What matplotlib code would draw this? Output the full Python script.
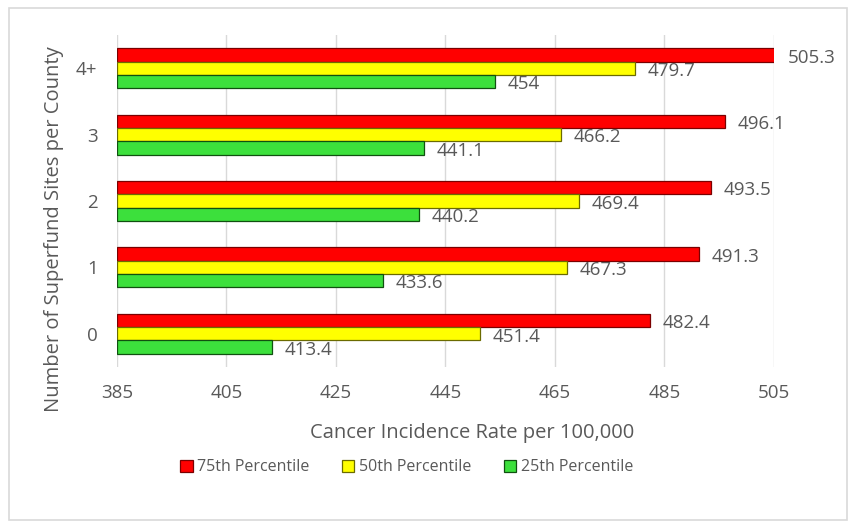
import matplotlib.pyplot as plt
from matplotlib.patches import Rectangle
import numpy as np

plt.rcParams['font.family'] = ['Open Sans', 'DejaVu Sans']

sites = ["0", "1", "2", "3", "4+"]
p75 = [482.4, 491.3, 493.5, 496.1, 505.3]
p50 = [451.4, 467.3, 469.4, 466.2, 479.7]
p25 = [413.4, 433.6, 440.2, 441.1, 454]

series = [
    ("75th Percentile", p75, "#ff0000", "#7a0000", 0.2),
    ("50th Percentile", p50, "#ffff00", "#6b6b00", 0.0),
    ("25th Percentile", p25, "#3ce03c", "#105010", -0.2),
]

base = 385
text_color = "#595959"

fig = plt.figure(figsize=(8.56, 5.27), dpi=100)
fig.patches.append(Rectangle((0.011, 0.013), 0.978, 0.972, transform=fig.transFigure,
                             fill=False, edgecolor="#d9d9d9", linewidth=1.2))
ax = fig.add_axes([0.1367, 0.3036, 0.7673, 0.63])

y = np.arange(len(sites))
h = 0.2
for name, vals, fc, ec, off in series:
    vals = np.array(vals)
    ax.barh(y + off, vals - base, left=base, height=h, color=fc, edgecolor=ec,
            linewidth=0.9, label=name, zorder=3)
    for yy, v in zip(y + off, vals):
        ax.annotate("{:g}".format(v), xy=(v, yy), xytext=(9, -2), textcoords="offset points",
                    ha="left", va="center", fontsize=13.5, color=text_color, zorder=4,
                    annotation_clip=False)

ax.set_xlim(385, 505)
ax.set_ylim(-0.5, 4.5)
ax.set_xticks(np.arange(385, 506, 20))
ax.set_yticks(y)
ax.set_yticklabels(sites)
ax.tick_params(length=0, labelsize=13.5, labelcolor=text_color)
ax.tick_params(axis="x", pad=12)
ax.tick_params(axis="y", pad=14)
ax.grid(axis="x", color="#d9d9d9", linewidth=1, zorder=0)
for s in ax.spines.values():
    s.set_visible(False)

ax.set_xlabel("Cancer Incidence Rate per 100,000", fontsize=14.5, color=text_color)
ax.set_ylabel("Number of Superfund Sites per County", fontsize=14.5, color=text_color)
ax.xaxis.set_label_coords((472 - 117) / 657, -(433 - 367) / 332, transform=ax.transAxes)
ax.yaxis.set_label_coords(-(117 - 54) / 657, (367 - 229) / 332, transform=ax.transAxes)
ax.xaxis.label.set_va("center")
ax.yaxis.label.set_va("center")

leg = fig.legend(loc="center", bbox_to_anchor=(0.475, 0.113), ncol=3, frameon=False,
                 fontsize=11.5, handlelength=0.8, handleheight=0.8, handletextpad=0.3,
                 columnspacing=2.0, labelcolor=text_color)

plt.savefig("out.png", dpi=100)
